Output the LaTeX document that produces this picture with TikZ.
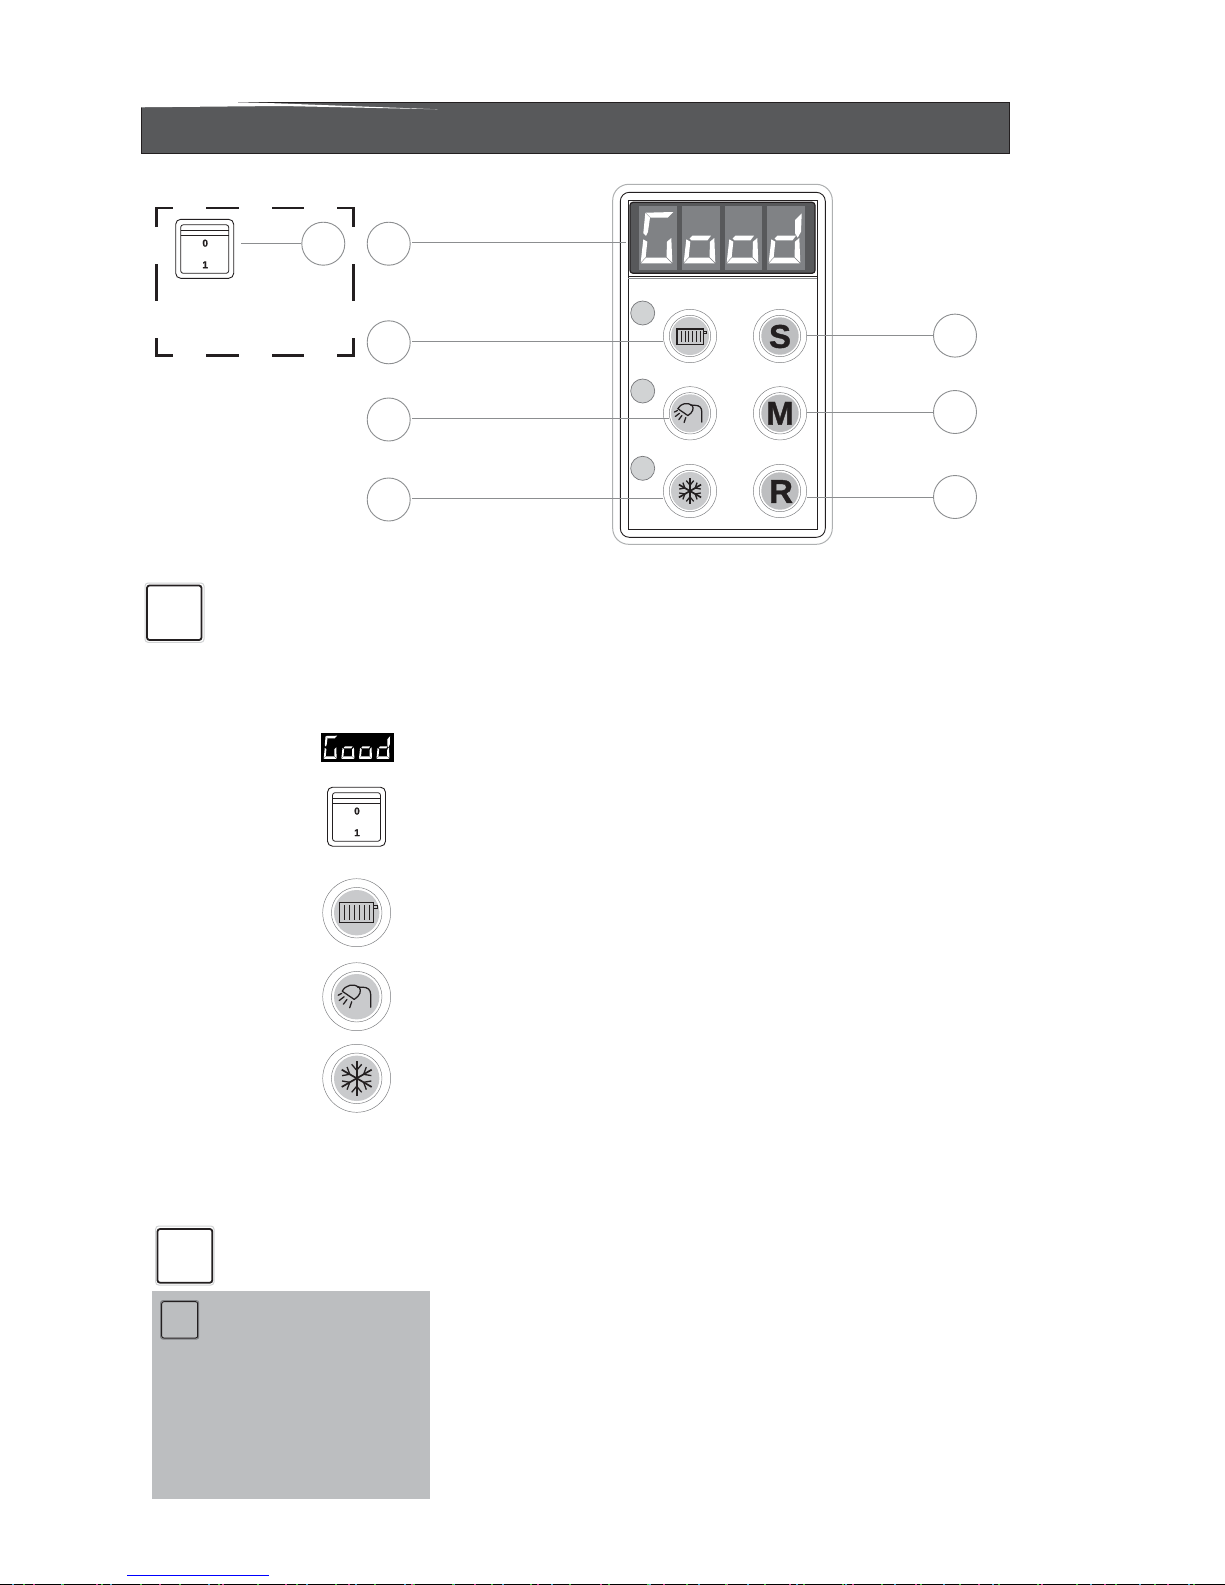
\documentclass[tikz,border=0pt]{standalone}
\usepackage{fontspec}
\setmainfont{Liberation Sans}
\newfontfamily\heavyf[FakeBold=1.2]{Liberation Sans Bold}
\definecolor{ink}{HTML}{231F20}
\definecolor{bannerg}{HTML}{58595B}
\definecolor{leadg}{HTML}{8C8E90}
\definecolor{ringg}{HTML}{77787B}
\definecolor{padg}{HTML}{C9CACC}
\definecolor{padd}{HTML}{BDBEC0}
\definecolor{ledg}{HTML}{D1D3D4}
\definecolor{boxg}{HTML}{BCBEC0}
\definecolor{digg}{HTML}{808285}
\tikzset{
  x=1pt,y=-1pt,
  lead/.style={draw=leadg,line width=0.9pt},
  numc/.style={circle,draw=leadg,line width=0.9pt,minimum size=43pt,inner sep=0pt,fill=white},
  ring/.style={circle,draw=ringg,line width=0.45pt,inner sep=0pt},
  pad/.style={circle,inner sep=0pt},
  ledn/.style={circle,draw=ringg,line width=0.7pt,fill=ledg,minimum size=24pt,inner sep=0pt},
  seg/.style={fill=white},
  captext/.style={font=\fontsize{33}{33}\selectfont\heavyf,text=ink,inner sep=0pt},
  swnum/.style={font=\fontsize{10}{10}\selectfont\heavyf,text=ink,inner sep=0pt},
  switchn/.style={draw=ink,line width=0.9pt,rounded corners=5pt,minimum width=58pt,minimum height=59pt,inner sep=0pt},
  iconl/.style={draw=ink,line width=1.25pt},
  sqout/.style={draw=ledg,line width=1pt,rounded corners=3pt},
  sqin/.style={draw=ink,line width=1.8pt,rounded corners=2.5pt}
}
\newcommand\segT{\fill[seg] (6.7,6.7)--(34.3,6)--(28.7,11.7)--(11.7,11.7)--cycle;}
\newcommand\segUL{\fill[seg] (6.3,7)--(11,11.5)--(9,25.7)--(7,30)--(4.3,27.3)--cycle;}
\newcommand\segLL{\fill[seg] (4.3,33.3)--(8.3,35.7)--(6.7,51)--(1.7,56.5)--cycle;}
\newcommand\segB{\fill[seg] (2,57.3)--(7,51.7)--(27,51.7)--(32.7,57.3)--cycle;}
\newcommand\segLR{\fill[seg] (28,35.7)--(32.3,32)--(33.3,56.5)--(27.5,51)--cycle;}
\newcommand\segM{\fill[seg] (10.5,29.7)--(29,29.7)--(25.5,34.3)--(9.5,34.3)--(7.5,32.5)--cycle;}
\newcommand\segUR{\fill[seg] (28,14)--(34.7,7.3)--(34,25.7)--(30.7,31.7)--(28,27.3)--cycle;}
\newcommand\digG{\segT\segUL\segLL\segB\segLR}
\newcommand\digO{\segM\segLL\segB\segLR}
\newcommand\digD{\segUR\segM\segLL\segB\segLR}
% switch: name, centre x, centre y
\newcommand\swt[3]{%
  \node[switchn] (#1) at (#2,#3) {};
  \begin{scope}[shift={(#2,#3)}]
    \draw[ink,line width=0.8pt,rounded corners=2.5pt] (-24,-24)rectangle(24,24.5);
    \draw[ink,line width=0.8pt] (-24,-18.2)--(24,-18.2) (-24,-13.8)--(24,-13.8);
    \node[swnum] (#1z) at (0.5,-5.6) {0};
    \node[swnum] (#1o) at (0.5,16) {1};
  \end{scope}}
% button: name, x, y, outer r, ring r, pad r, pad colour
\newcommand\btn[7]{%
  \node[ring,fill=white,minimum size=#4*2pt] (#1) at (#2,#3) {};
  \node[ring,fill=white,minimum size=#5*2pt] (#1r) at (#2,#3) {};
  \node[pad,fill=#7,minimum size=#6*2pt] (#1p) at (#2,#3) {};}
\newcommand\radicon[3]{%
  \begin{scope}[shift={(#1,#2)},scale=#3]
    \draw[iconl] (-17.4,-10.4) rectangle (16.6,9.6);
    \draw[ink,line width=1pt] (16.6,-7)--(21,-7)--(21,-4.4)--(16.6,-4.4);
    \foreach \xx in {-12,-7,-2,3,8,12.5}{\draw[ink,line width=1pt] (\xx,-7.5)--(\xx,7);}
  \end{scope}}
\newcommand\showicon[3]{%
  \begin{scope}[shift={(#1,#2)},scale=#3]
    \draw[iconl,line cap=round,line join=round] (14,10.5)--(14,-2) .. controls (14,-7) and (11,-9.5) .. (6,-9.5)--(1,-9.5);
    \draw[iconl,line join=round] (-14.5,-5.5) .. controls (-11,-12) and (-3,-13.5) .. (2.5,-9.5) .. controls (5,-6) and (3.5,-1) .. (-2.5,2.7)--cycle;
    \draw[iconl,line cap=round] (-18.5,-1.5)--(-15,-3.3) (-17.5,3.8)--(-12.5,0) (-13.3,7.5)--(-9.7,2.7) (-7,11)--(-5,5);
  \end{scope}}
\newcommand\snowicon[3]{%
  \begin{scope}[shift={(#1,#2)},scale=#3]
    \foreach \aa in {90,150,210,270,330,30}{
      \begin{scope}[rotate=\aa]
        \draw[ink,line width=1.7pt] (0,0)--(17.3,0);
        \draw[ink,line width=1.3pt] (8,0)--(14,5) (8,0)--(14,-5);
      \end{scope}}
  \end{scope}}
\begin{document}
\begin{tikzpicture}
\useasboundingbox (0,0) rectangle (1225,1585);
\fill[white] (0,0) rectangle (1225,1585);
% banner
\draw[fill=bannerg,draw=ink,line width=1pt] (141,102.5) rectangle (1009,153.5);
\fill[white] (139,100)--(139,107.3)--(282,106)--(438,109.3)--(265,102.9)--(236,102.2)--(236,100)--cycle;
% dashed frame
\draw[ink,line width=2.3pt] (156.5,227)--(156.5,208.2)--(173,208.2)
  (206,208.2)--(239,208.2) (272,208.2)--(304,208.2) (337,208.2)--(353.5,208.2)--(353.5,227)
  (156.5,264)--(156.5,300.7) (353.5,264)--(353.5,300.7)
  (156.5,338)--(156.5,355.5)--(173,355.5) (206,355.5)--(239,355.5) (272,355.5)--(304,355.5) (337,355.5)--(353.5,355.5)--(353.5,338);
% control panel
\draw[leadg!70,line width=1pt,rounded corners=16pt] (612.7,184.3) rectangle (832.3,544.3);
\draw[ink,line width=0.9pt,rounded corners=9pt] (620.3,192.3) rectangle (825.3,537.3);
\draw[ink,line width=0.9pt] (628.3,200) rectangle (817.3,529.3);
% display
\draw[fill=bannerg,draw=ink,line width=1.2pt,rounded corners=3pt] (630,202.3) rectangle (815,273.3);
\draw[ink,line width=0.8pt] (628.3,276.7)--(817.3,276.7);
\draw[leadg,line width=0.6pt] (628.3,278.4)--(817.3,278.4);
\node[fill=digg,minimum width=37.7pt,minimum height=64pt,inner sep=0pt] (d1) at (657.9,238) {};
\node[fill=digg,minimum width=38pt,minimum height=64pt,inner sep=0pt] (d2) at (701,238) {};
\node[fill=digg,minimum width=37.3pt,minimum height=64pt,inner sep=0pt] (d3) at (743.7,238) {};
\node[fill=digg,minimum width=38pt,minimum height=64pt,inner sep=0pt] (d4) at (786,238) {};
\begin{scope}[shift={(639,206)}]\digG\end{scope}
\begin{scope}[shift={(682,206)}]\digO\end{scope}
\begin{scope}[shift={(725,206)}]\digO\end{scope}
\begin{scope}[shift={(767,206)}]\digD\end{scope}
% LEDs
\node[ledn] (led1) at (642.7,313) {};
\node[ledn] (led2) at (642.7,391) {};
\node[ledn] (led3) at (642.7,468.3) {};
% panel buttons
\btn{bh}{690}{336}{26.7}{20.7}{19}{padg}
\btn{bw}{690}{413.3}{26.7}{20.7}{19}{padg}
\btn{bc}{690}{491}{26.7}{20.7}{19}{padg}
\btn{bs}{780}{336}{26.7}{20.7}{18.7}{padd}
\btn{bm}{780}{413.3}{26.7}{20.7}{18.7}{padd}
\btn{br}{780}{491}{26.7}{20.7}{18.7}{padd}
\radicon{690.5}{337}{0.78}
\showicon{690}{413.3}{0.84}
\snowicon{690}{491}{0.74}
\node[captext] (ls) at (780,336.5) {S};
\node[captext] (lm) at (780,413.3) {M};
\node[captext] (lr) at (781,491.5) {R};
% switch + number circles
\swt{sw}{204.7}{248.8}
\node[numc] (c0) at (323.3,243.7) {};
\node[numc] (c1) at (388.7,243.7) {};
\node[numc] (c2) at (388.7,342.3) {};
\node[numc] (c3) at (388.7,419.5) {};
\node[numc] (c4) at (388.7,499.5) {};
\node[numc] (c5) at (955,335.6) {};
\node[numc] (c6) at (955,412) {};
\node[numc] (c7) at (955,497) {};
\coordinate (dispend) at (626,242.3);
% connectors
\draw[lead,shorten <=7.3pt] (sw.east |- c0.west) -- (c0.west);
\draw[lead,shorten <=1.8pt] (c1.east |- dispend) -- (dispend);
\draw[lead,shorten <=1.8pt] (c2.east |- 0,341.3) -- (bh.west |- 0,341.3);
\draw[lead,shorten <=1.8pt] (c3.east |- 0,418.3) -- (bwr.west |- 0,418.3);
\draw[lead,shorten <=1.8pt] (c4.east |- 0,498.3) -- (bc.west |- 0,498.3);
\draw[lead] (bs.east |- c5.west) -- (c5.west);
\draw[lead] (bm.east |- c6.west) -- (c6.west);
\draw[lead] (br.east |- c7.west) -- (c7.west);
% note box 1
\draw[sqout] (145,583) rectangle (204,642.3);
\draw[sqin] (147,585.5) rectangle (201.5,640);
% legend
\node[fill=black,minimum width=73pt,minimum height=29pt,inner sep=0pt] (sgood) at (357.5,747.5) {};
\begin{scope}[shift={(323,733)},xscale=0.41,yscale=0.45]\digG\end{scope}
\begin{scope}[shift={(340.7,733)},xscale=0.41,yscale=0.45]\digO\end{scope}
\begin{scope}[shift={(358.3,733)},xscale=0.41,yscale=0.45]\digO\end{scope}
\begin{scope}[shift={(375.8,733)},xscale=0.41,yscale=0.45]\digD\end{scope}
\swt{sx}{356.5}{816.7}
\btn{lh}{356.7}{912.7}{34}{25.3}{22.7}{padg}
\btn{lw}{356.7}{996.7}{34}{25.3}{22.7}{padg}
\btn{lc}{356.7}{1078.3}{34}{25.3}{22.7}{padg}
\radicon{356.7}{912.7}{1}
\showicon{356.7}{996.7}{1}
\snowicon{356.7}{1078.3}{1}
% note box 2
\draw[sqout] (155.7,1226) rectangle (214,1285);
\draw[sqin] (157.5,1229) rectangle (212.3,1282.7);
% grey box
\fill[boxg] (152,1291) rectangle (430,1499);
\draw[digg,line width=1pt,rounded corners=2pt] (160.7,1300.7) rectangle (198.7,1339);
\draw[ink,line width=1pt,rounded corners=2pt] (161.7,1301.7) rectangle (197.7,1338);
% page foot
\draw[blue,line width=1pt] (127,1575.3)--(269,1575.3);
\draw[black,line width=1.4pt] (0,1584.4)--(1225,1584.4);
\draw[cyan!70!gray,line width=1.4pt,dash pattern=on 2pt off 47pt] (12,1584.4)--(1225,1584.4);
\draw[magenta!70!gray,line width=1.4pt,dash pattern=on 2pt off 61pt] (33,1584.4)--(1225,1584.4);
\draw[green!50!gray,line width=1.4pt,dash pattern=on 2pt off 37pt] (23,1584.4)--(1225,1584.4);
\end{tikzpicture}
\end{document}
